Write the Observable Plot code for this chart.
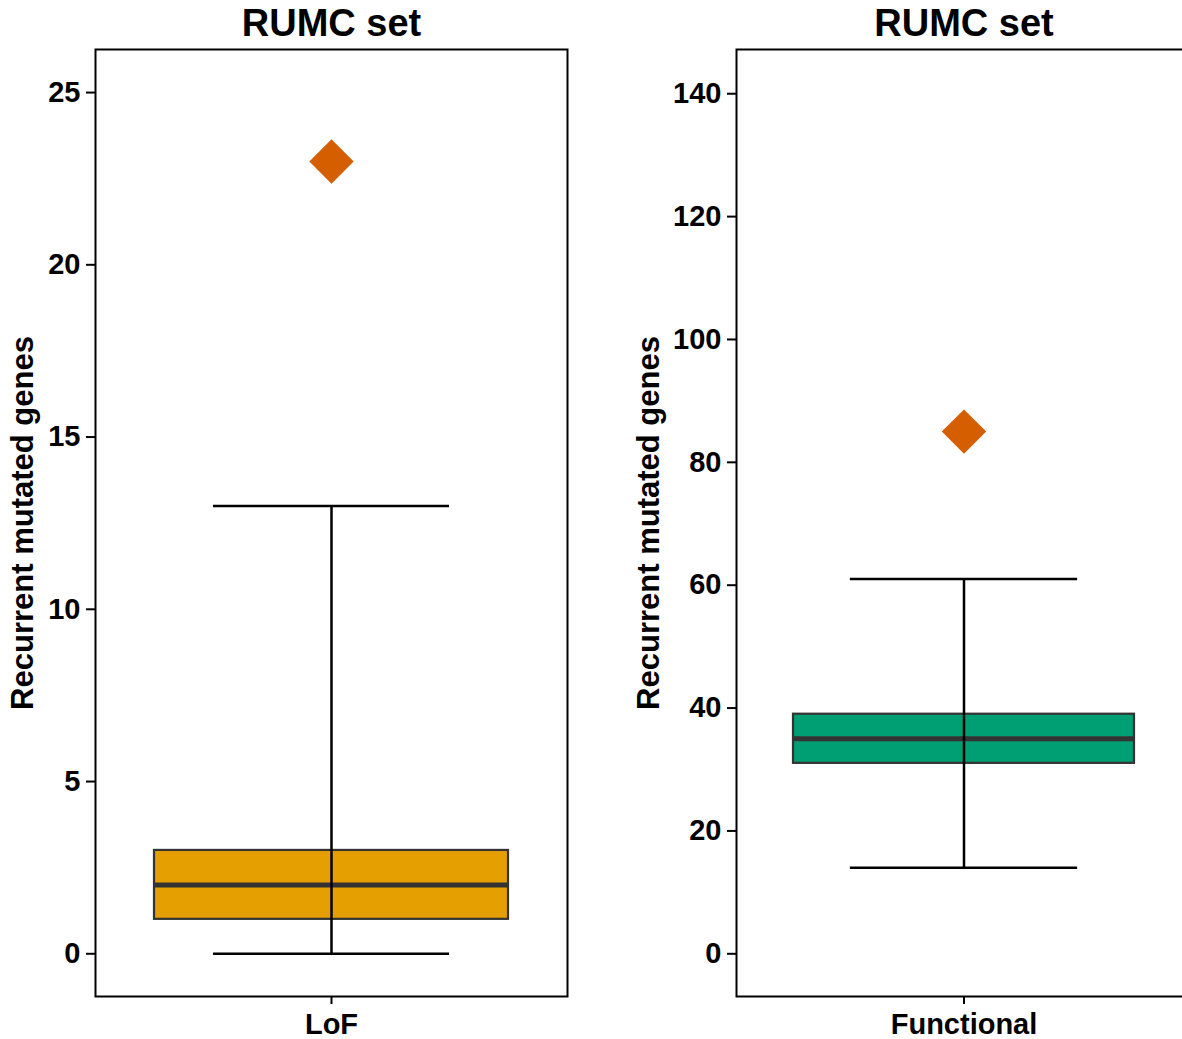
<!DOCTYPE html>
<html>
<head>
<meta charset="utf-8">
<script src="https://cdn.jsdelivr.net/npm/d3@7"></script>
<script src="https://cdn.jsdelivr.net/npm/@observablehq/plot@0.6"></script>
<style>
  html, body { margin: 0; padding: 0; background: #fff; }
  body { width: 1182px; height: 1039px; overflow: hidden; position: relative; }
  .panel { position: absolute; top: 0; width: 600px; height: 1039px; }
  .panel svg { max-width: none !important; }
</style>
</head>
<body>
<div id="p0" class="panel" style="left:0px"></div>
<div id="p1" class="panel" style="left:600px"></div>
<script>
// ---- data ----
const titles = ["RUMC set", "RUMC set"];
const categories = ["LoF", "Functional"];
const yAxisLabel = "Recurrent mutated genes";
const lowerWhisker = [0, 14];
const q1 = [1, 31];
const median = [2, 35];
const q3 = [3, 39];
const upperWhisker = [13, 61];
const outliers = [23, 85];
const boxColors = ["#E69F00", "#009E73"];
const outlierColor = "#D55E00";
const yTicks = [[0, 5, 10, 15, 20, 25], [0, 20, 40, 60, 80, 100, 120, 140]];
const yDomains = [[-1.24, 26.25], [-6.95, 147.2]];

// ---- layout ----
const layouts = [
  {width: 600, marginLeft: 95, marginRight: 33, labelDx: -72},
  {width: 600, marginLeft: 136, marginRight: 9, labelDx: -87}
];
const H = 1039, marginTop = 49, marginBottom = 43;
const FONT = "'Liberation Sans', Arial, Helvetica, sans-serif";

function panel(i) {
  const L = layouts[i];
  const panelW = L.width - L.marginLeft - L.marginRight;
  const capInset = panelW / 8;
  const d = [{
    cat: categories[i], lo: lowerWhisker[i], q1: q1[i], med: median[i],
    q3: q3[i], hi: upperWhisker[i], out: outliers[i]
  }];
  return Plot.plot({
    width: L.width,
    height: H,
    marginLeft: L.marginLeft,
    marginRight: L.marginRight,
    marginTop, marginBottom,
    style: {fontFamily: FONT, fontWeight: "bold", color: "black", background: "white", overflow: "visible"},
    x: {domain: [categories[i]], padding: 1 / 7, axis: null},
    y: {domain: yDomains[i], axis: null},
    marks: [
      Plot.barY(d, {x: "cat", y1: "q1", y2: "q3", fill: boxColors[i], stroke: "#333333", strokeWidth: 2.2}),
      Plot.tickY(d, {x: "cat", y: "med", stroke: "#333333", strokeWidth: 5}),
      Plot.ruleX(d, {x: "cat", y1: "lo", y2: "hi", stroke: "black", strokeWidth: 2.5}),
      Plot.tickY(d, {x: "cat", y: "lo", stroke: "black", strokeWidth: 2.5, insetLeft: capInset, insetRight: capInset}),
      Plot.tickY(d, {x: "cat", y: "hi", stroke: "black", strokeWidth: 2.5, insetLeft: capInset, insetRight: capInset}),
      Plot.dot(d, {x: "cat", y: "out", symbol: "diamond2", r: 20, fill: outlierColor, stroke: "none"}),
      Plot.frame({stroke: "black", strokeWidth: 2}),
      Plot.axisY({ticks: yTicks[i], tickSize: 9, tickPadding: 6, fontSize: 29, label: null, strokeWidth: 2}),
      Plot.axisX({tickSize: 8, tickPadding: 9, fontSize: 29, label: null, strokeWidth: 2}),
      Plot.text([titles[i]], {frameAnchor: "top", lineAnchor: "middle", textAnchor: "middle", dy: -26, fontSize: 38, fontWeight: "bold", fill: "black"}),
      Plot.text([yAxisLabel], {frameAnchor: "left", lineAnchor: "middle", textAnchor: "middle", rotate: -90, dx: L.labelDx, fontSize: 31, fontWeight: "bold", fill: "black"})
    ]
  });
}

document.getElementById("p0").appendChild(panel(0));
document.getElementById("p1").appendChild(panel(1));
</script>
</body>
</html>
